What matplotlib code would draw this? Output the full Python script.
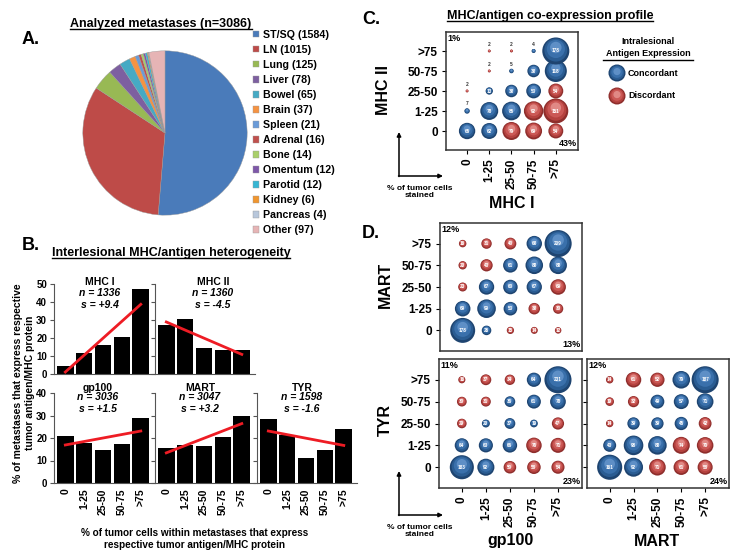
import numpy as np
import matplotlib
matplotlib.use("Agg")
import matplotlib.pyplot as plt
from matplotlib.transforms import offset_copy

plt.rcParams['font.family'] = ['Liberation Sans', 'DejaVu Sans']
plt.rcParams['font.weight'] = 'bold'

# ---------------- data ----------------
sites = ["ST/SQ", "LN", "Lung", "Liver", "Bowel", "Brain", "Spleen", "Adrenal",
         "Bone", "Omentum", "Parotid", "Kidney", "Pancreas", "Other"]
site_counts = [1584, 1015, 125, 78, 65, 37, 21, 16, 14, 12, 12, 6, 4, 97]

bins = ["0", "1-25", "25-50", "50-75", ">75"]

mhc1_pct = [4.5, 11.5, 16, 20.5, 47]
mhc2_pct = [27.5, 30.5, 14.5, 13.5, 13.5]
gp100_pct = [21, 18, 14.5, 17.5, 29]
mart_pct = [15.5, 17, 16.5, 20.5, 30]
tyr_pct = [28.5, 21.5, 11, 14.5, 24]
bar_names = ["MHC I", "MHC II", "gp100", "MART", "TYR"]
bar_n = [1336, 1360, 3036, 3047, 1598]
bar_s = ["+9.4", "-4.5", "+1.5", "+3.2", "-1.6"]

nan = np.nan
# rows: y bin "0" .. ">75", cols: x bin "0" .. ">75"
co_mhc1_mhc2 = [[65, 62, 79, 69, 54],
                [7, 78, 85, 92, 151],
                [2, 13, 38, 53, 54],
                [nan, 2, 5, 38, 118],
                [nan, 2, 2, 4, 178]]
co_mhc1_mart = [[178, 26, 15, 14, 12],
                [69, 99, 53, 38, 30],
                [23, 67, 60, 67, 69],
                [20, 43, 61, 88, 88],
                [16, 31, 40, 68, 209]]
co_gp100_tyr = [[183, 92, 50, 58, 54],
                [64, 63, 66, 76, 71],
                [29, 20, 37, 19, 47],
                [30, 31, 36, 61, 78],
                [16, 37, 34, 64, 231]]
co_mart_tyr = [[161, 92, 71, 61, 58],
               [43, 98, 88, 74, 70],
               [14, 39, 39, 45, 42],
               [19, 32, 49, 57, 71],
               [14, 61, 52, 79, 187]]

# ---------------- layout helpers ----------------
W, H = 738, 554

def rect(l, t, r, b):
  return [l / W, 1 - b / H, (r - l) / W, (b - t) / H]

fig = plt.figure(figsize=(W / 100, H / 100), dpi=100)
ov = fig.add_axes([0, 0, 1, 1])
ov.set_xlim(0, W)
ov.set_ylim(H, 0)
ov.axis("off")

def underlined(x, y, s, size):
  t = ov.text(x, y, s, ha="center", va="baseline", fontsize=size)
  fig.canvas.draw()
  bb = t.get_window_extent()
  ov.plot([bb.x0, bb.x1], [y + 2, y + 2], color="k", lw=1)
  return t

# ---------------- A: pie ----------------
pie_colors = ["#4A7BBA", "#BE4B48", "#98B954", "#7D5FA0", "#46AAC4", "#F59342",
              "#6A9BD8", "#C0504D", "#A9CF6A", "#7E57A8", "#37B6D3", "#F0962F",
              "#B8C7DB", "#E6B4B5"]
axp = fig.add_axes(rect(82, 50, 248, 216))
wedges, _ = axp.pie(site_counts, colors=pie_colors, startangle=90, counterclock=False,
                    wedgeprops=dict(edgecolor="#9a9a9a", linewidth=0.3))
axp.set_xlim(-1.01, 1.01)
axp.set_ylim(-1.01, 1.01)
axp.set_aspect("equal")
axp.legend(wedges, [f"{s} ({c})" for s, c in zip(sites, site_counts)],
           loc="upper left", bbox_to_anchor=(253 / W, 1 - 30 / H),
           bbox_transform=fig.transFigure, frameon=False, fontsize=7.7,
           handlelength=0.55, handleheight=0.55, handletextpad=0.35,
           labelspacing=0.47, borderpad=0, borderaxespad=0)
underlined(161, 27, "Analyzed metastases (n=3086)", 9)
ov.text(22, 40, "A.", fontsize=13, va="center")

# ---------------- B: bars ----------------
ov.text(22, 245, "B.", fontsize=13, va="center")
underlined(171, 256, "Interlesional MHC/antigen heterogeneity", 9)

bar_data = [mhc1_pct, mhc2_pct, gp100_pct, mart_pct, tyr_pct]
bar_cells = [(54, 284, 374, 50), (155, 284, 374, 50),
             (54, 393, 483, 40), (155, 393, 483, 40), (257, 393, 483, 40)]
text_x = [0.46, 0.58, 0.44, 0.45, 0.45]
x = np.arange(5)
for k, (vals, (l, t, b, ymax)) in enumerate(zip(bar_data, bar_cells)):
  ax = fig.add_axes(rect(l, t, l + 100, b))
  ax.bar(x, vals, width=0.88, color="k")
  slope, icpt = np.polyfit(x, vals, 1)
  ax.plot([0, 4], [icpt, icpt + 4 * slope], color="#EE1C24", lw=2)
  ax.set_xlim(-0.6, 4.7)
  ax.set_ylim(0, ymax)
  ax.set_yticks(np.arange(0, ymax + 1, 10))
  for sp in ["top", "right"]:
    ax.spines[sp].set_visible(False)
  ax.spines["left"].set_color("#555555")
  ax.spines["bottom"].set_color("#555555")
  ax.tick_params(axis="y", length=3, labelsize=7, pad=2, color="#555555",
                 labelleft=(l == 54))
  ax.set_xticks(x)
  if t == 393:
    ax.set_xticklabels(bins, rotation=90, fontsize=7.5)
    ax.tick_params(axis="x", length=0, pad=4)
    ys = (1.055, 0.955, 0.82)
  else:
    ax.set_xticklabels([])
    ax.tick_params(axis="x", length=0)
    ys = (1.02, 0.9, 0.77)
  ax.text(text_x[k], ys[0], bar_names[k], transform=ax.transAxes, ha="center",
          va="center", fontsize=7.5)
  ax.text(text_x[k], ys[1], f"n = {bar_n[k]}", transform=ax.transAxes, ha="center",
          va="center", fontsize=7.5, style="italic")
  ax.text(text_x[k], ys[2], f"s = {bar_s[k]}", transform=ax.transAxes, ha="center",
          va="center", fontsize=7.5, style="italic")

ov.text(24, 383, "% of metastases that express respective\ntumor antigen/MHC protein",
        rotation=90, ha="center", va="center", fontsize=7.5, linespacing=1.15)
ov.text(195, 539, "% of tumor cells within metastases that express\nrespective tumor antigen/MHC protein",
        ha="center", va="center", fontsize=7.2, linespacing=1.2)

# ---------------- C / D: bubbles ----------------
blue_shades = ["#1E4470", "#2A5C92", "#3A70AB", "#5E8FC6"]
red_shades = ["#8E2E2C", "#B5423F", "#CB5956", "#E08985"]

def bubbles(ax, mat, corners, xlab=True, ylab=True):
  mat = np.array(mat, float)
  vmax = np.nanmax(mat)
  for i in range(5):
    for j in range(5):
      v = mat[i, j]
      if np.isnan(v):
        continue
      shades = blue_shades if abs(i - j) <= 1 else red_shades
      s = 380 * v / vmax
      r = np.sqrt(s) / 2
      for f, c in zip([1, 0.72, 0.45, 0.18], shades):
        tr = offset_copy(ax.transData, fig=fig, x=0, y=(1 - np.sqrt(f)) * r * 0.45, units="points")
        ax.scatter(j, i, s=s * f, color=c, edgecolors="none", zorder=3, transform=tr)
      if v < 9:
        ax.annotate(str(int(v)), (j, i), xytext=(0, r + 1.5), textcoords="offset points",
                    ha="center", va="bottom", fontsize=3.5, color="#333333")
      else:
        ax.text(j, i, str(int(v)), ha="center", va="center", fontsize=3.3,
                color="white", zorder=4)
  ax.set_xlim(-0.95, 5.0)
  ax.set_ylim(-0.95, 4.95)
  ax.set_xticks(range(5))
  ax.set_yticks(range(5))
  ax.set_yticklabels(bins)
  ax.set_xticklabels(bins, rotation=90)
  ax.tick_params(axis="y", length=3, labelsize=8.5, pad=3, labelleft=ylab)
  ax.tick_params(axis="x", length=3 if xlab else 0, labelsize=8.5, pad=3, labelbottom=xlab)
  for sp in ax.spines.values():
    sp.set_color("#333333")
    sp.set_linewidth(1.1)
  ax.text(0.01, 0.985, corners[0], transform=ax.transAxes, ha="left", va="top", fontsize=6.5)
  ax.text(0.99, 0.015, corners[1], transform=ax.transAxes, ha="right", va="bottom", fontsize=6.5)

ov.text(362, 19, "C.", fontsize=13, va="center")
underlined(550, 19, "MHC/antigen co-expression profile", 9)
axc = fig.add_axes(rect(446, 32, 578, 150))
bubbles(axc, co_mhc1_mhc2, ("1%", "43%"))
ov.text(383, 90, "MHC II", rotation=90, ha="center", va="center", fontsize=11.5)
ov.text(512, 203, "MHC I", ha="center", va="center", fontsize=11.5)

# legend for C
ov.text(648, 42, "Intralesional", ha="center", va="center", fontsize=6.5)
ht = ov.text(648, 53, "Antigen Expression", ha="center", va="center", fontsize=6.5)
fig.canvas.draw()
bb = ht.get_window_extent()
ov.plot([bb.x0 - 3, bb.x1 + 3], [60, 60], color="k", lw=1)
for yy, shades, lab in [(73, blue_shades, "Concordant"), (96, red_shades, "Discordant")]:
  for f, c in zip([1, 0.72, 0.45, 0.18], shades):
    ov.scatter(617, yy - (1 - np.sqrt(f)) * 2.5, s=150 * f, color=c, edgecolors="none")
  ov.text(628, yy, lab, ha="left", va="center", fontsize=6.5)

# arrows
for ax_y, tx_y in [(176, 188), (515, 527)]:
  ov.annotate("", xy=(399, ax_y - 44), xytext=(399, ax_y + 0.5),
              arrowprops=dict(arrowstyle="-|>", lw=1.1, color="k", mutation_scale=6,
                              shrinkA=0, shrinkB=0))
  ov.annotate("", xy=(443, ax_y), xytext=(398.5, ax_y),
              arrowprops=dict(arrowstyle="-|>", lw=1.1, color="k", mutation_scale=6,
                              shrinkA=0, shrinkB=0))
  ov.text(420, tx_y + 4, "% of tumor cells\nstained", ha="center", va="center",
          fontsize=6, linespacing=1.1)

ov.text(362, 233, "D.", fontsize=13, va="center")
axd1 = fig.add_axes(rect(440, 223, 582, 351))
bubbles(axd1, co_mhc1_mart, ("12%", "13%"), xlab=False)
axd2 = fig.add_axes(rect(439, 359, 582, 488))
bubbles(axd2, co_gp100_tyr, ("11%", "23%"))
axd3 = fig.add_axes(rect(587, 359, 729, 488))
bubbles(axd3, co_mart_tyr, ("12%", "24%"), ylab=False)
ov.text(385, 285, "MART", rotation=90, ha="center", va="center", fontsize=11.5)
ov.text(385, 420, "TYR", rotation=90, ha="center", va="center", fontsize=11.5)
ov.text(510, 541, "gp100", ha="center", va="center", fontsize=11.5)
ov.text(657, 541, "MART", ha="center", va="center", fontsize=11.5)

fig.savefig("out.png", dpi=100)
